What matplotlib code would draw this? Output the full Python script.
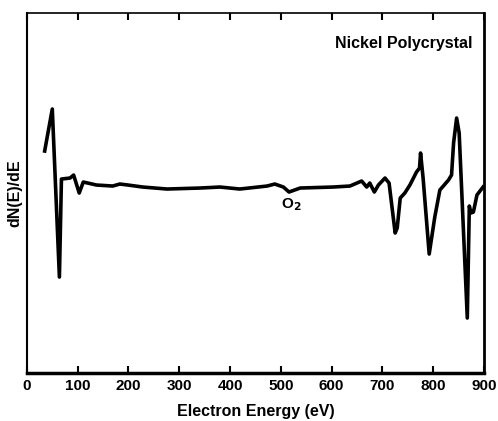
import matplotlib.pyplot as plt

# Auger spectrum trace (arbitrary y units)
energy = [35, 50, 64, 68, 85, 92, 103, 111, 137, 169, 183, 199, 228, 276, 341, 380,
          419, 473, 488, 505, 516, 538, 603, 636, 659, 669, 675, 684, 692, 705, 713,
          725, 729, 735, 744, 754, 767, 773, 775, 780, 792, 803, 813, 830, 836, 840,
          846, 851, 867, 871, 874, 879, 886, 898]
signal = [222, 264, 96, 194, 195, 198, 180, 191, 188, 187, 189, 188, 186, 184, 185, 186,
          184, 187, 189, 186, 181, 185, 186, 187, 192, 186, 190, 181, 188, 195, 190,
          140, 145, 175, 180, 188, 201, 205, 220, 195, 119, 156, 183, 193, 198, 230,
          255, 240, 55, 167, 160, 161, 178, 186]
xticks = [0, 100, 200, 300, 400, 500, 600, 700, 800, 900]

plt.rcParams['font.family'] = ['Liberation Sans', 'DejaVu Sans']
plt.rcParams['font.weight'] = 'bold'

fig = plt.figure(figsize=(4.98, 4.21), dpi=100)
ax = fig.add_axes([0.054, 0.114, 0.918, 0.855])
ax.plot(energy, signal, color='black', lw=2.6, solid_joinstyle='round')

ax.set_xlim(0, 900)
ax.set_ylim(0, 360)
ax.set_xticks(xticks)
ax.set_xticklabels([str(t) for t in xticks], fontsize=11, fontweight='bold')
ax.set_yticks([])
ax.tick_params(axis='x', direction='in', length=5, width=1.5, top=True, pad=4)
ax.spines['bottom'].set_linewidth(2.5)
ax.spines['left'].set_linewidth(1.5)
ax.spines['right'].set_linewidth(2)
ax.spines['top'].set_linewidth(1.2)

ax.set_xlabel('Electron Energy (eV)', fontsize=11.5, fontweight='bold', labelpad=8)
ax.set_ylabel('dN(E)/dE', fontsize=11.5, fontweight='bold', labelpad=3)

ax.text(0.975, 0.915, 'Nickel Polycrystal', transform=ax.transAxes,
        ha='right', va='center', fontsize=11.5, fontweight='bold')
ax.text(521, 168, 'O$_{\\mathbf{2}}$', ha='center', va='center', fontsize=11,
        fontweight='bold')

fig.savefig('out.png', dpi=100)
